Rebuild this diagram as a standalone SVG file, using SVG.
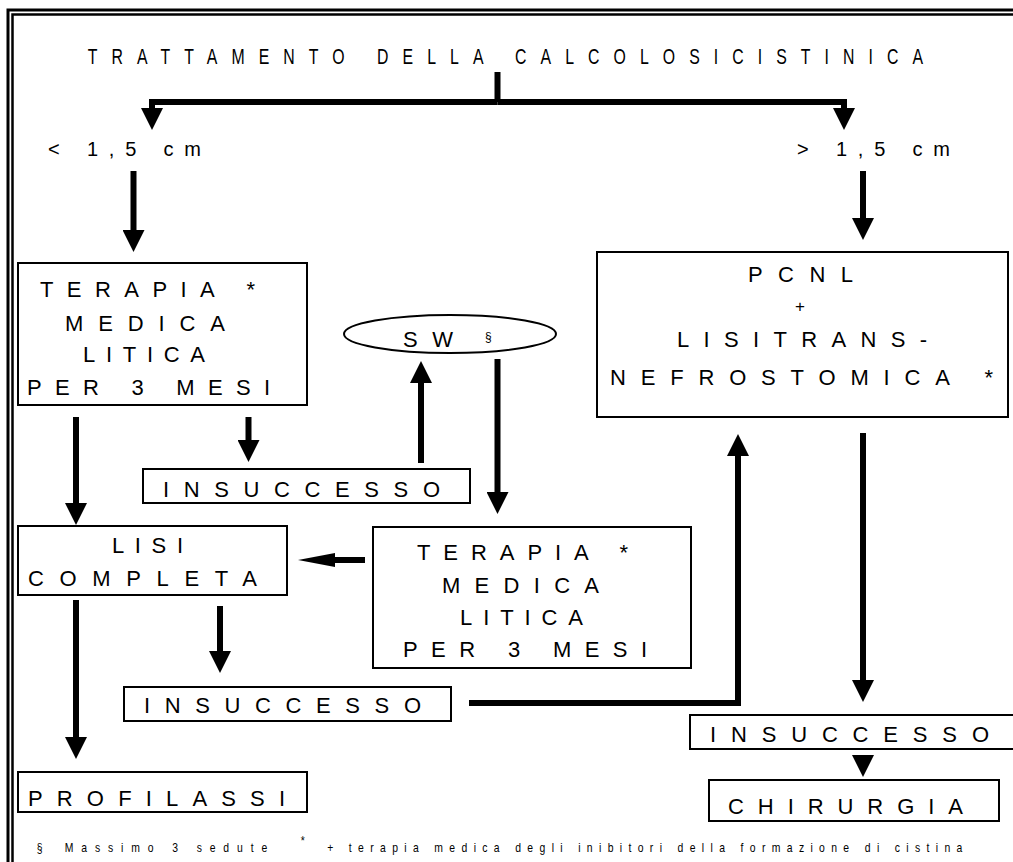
<svg xmlns="http://www.w3.org/2000/svg" width="1013" height="862" viewBox="0 0 1013 862">
  <style>
    .bg { fill: #ffffff; }
    .frame { fill: none; stroke: #000; }
    .box { fill: #ffffff; stroke: #000; stroke-width: 2; }
    .lbl { font-family: "Liberation Sans", Arial, sans-serif; font-size: 22px; fill: #000; }
    .title { font-family: "Liberation Sans", Arial, sans-serif; font-size: 22px; fill: #000; }
    .size { font-family: "Liberation Sans", Arial, sans-serif; font-size: 20px; fill: #000; }
    .note { font-family: "Liberation Sans", Arial, sans-serif; font-size: 13px; fill: #000; }
    .sup { font-family: "Liberation Sans", Arial, sans-serif; font-size: 12px; fill: #000; }
    .plus { font-family: "Liberation Sans", Arial, sans-serif; font-size: 17px; fill: #000; }
    .wire { fill: none; stroke: #000; stroke-width: 6; stroke-linejoin: miter; }
  </style>
  <defs>
    <!-- solid arrowhead, base at the path end, 22 long -->
    <marker id="ah" markerUnits="userSpaceOnUse" markerWidth="22" markerHeight="22" viewBox="0 -11 22 22" refX="0" refY="0" orient="auto">
      <path d="M0,-11 L22,0 L0,11 z" fill="#000"/>
    </marker>
    <!-- long narrow arrowhead -->
    <marker id="ahl" markerUnits="userSpaceOnUse" markerWidth="37" markerHeight="14" viewBox="0 -7 37 14" refX="0" refY="0" orient="auto">
      <path d="M0,-7 L37,0 L0,7 z" fill="#000"/>
    </marker>
  </defs>

  <rect class="bg" x="0" y="0" width="1013" height="862"/>

  <!-- double page frame -->
  <path class="frame" d="M8,862 V10 H1013" stroke-width="3"/>
  <path class="frame" d="M12.5,862 V14.5 H1013" stroke-width="2.5"/>

  <!-- condensed title: glyphs squeezed horizontally to 72 % -->
  <g id="title" transform="scale(0.72,1)">
    <text class="title" x="122" y="64" textLength="1160" lengthAdjust="spacing">TRATTAMENTO DELLA CALCOLOSICISTINICA</text>
  </g>

  <g id="size-small">
    <text class="size" x="48" y="156" textLength="153" lengthAdjust="spacing">&lt; 1,5 cm</text>
  </g>
  <g id="size-large">
    <text class="size" x="797" y="156" textLength="153" lengthAdjust="spacing">&gt; 1,5 cm</text>
  </g>

  <g id="terapia-1">
    <rect class="box" x="18" y="263" width="289" height="142"/>
    <text class="lbl" x="40" y="297" textLength="215" lengthAdjust="spacing">TERAPIA *</text>
    <text class="lbl" x="65" y="331" textLength="160" lengthAdjust="spacing">MEDICA</text>
    <text class="lbl" x="83" y="362" textLength="122" lengthAdjust="spacing">LITICA</text>
    <text class="lbl" x="27" y="395" textLength="243" lengthAdjust="spacing">PER 3 MESI</text>
  </g>

  <g id="sw">
    <ellipse class="box" cx="450" cy="334" rx="106" ry="19"/>
    <text class="lbl" x="403" y="347" textLength="50" lengthAdjust="spacing">SW</text>
    <text class="sup" x="485" y="341">§</text>
  </g>

  <g id="insuccesso-1">
    <rect class="box" x="143" y="469" width="327" height="34"/>
    <text class="lbl" x="163" y="497" textLength="277" lengthAdjust="spacing">INSUCCESSO</text>
  </g>

  <g id="lisi-completa">
    <rect class="box" x="18" y="526" width="269" height="69"/>
    <text class="lbl" x="112" y="553" textLength="71" lengthAdjust="spacing">LISI</text>
    <text class="lbl" x="28" y="586" textLength="229" lengthAdjust="spacing">COMPLETA</text>
  </g>

  <g id="terapia-2">
    <rect class="box" x="373" y="527" width="318" height="141"/>
    <text class="lbl" x="417" y="560" textLength="211" lengthAdjust="spacing">TERAPIA *</text>
    <text class="lbl" x="442" y="593" textLength="157" lengthAdjust="spacing">MEDICA</text>
    <text class="lbl" x="460" y="625" textLength="123" lengthAdjust="spacing">LITICA</text>
    <text class="lbl" x="403" y="657" textLength="244" lengthAdjust="spacing">PER 3 MESI</text>
  </g>

  <g id="insuccesso-2">
    <rect class="box" x="124" y="687" width="327" height="34"/>
    <text class="lbl" x="144" y="713" textLength="277" lengthAdjust="spacing">INSUCCESSO</text>
  </g>

  <g id="profilassi">
    <rect class="box" x="18" y="772" width="289" height="40"/>
    <text class="lbl" x="28" y="806" textLength="257" lengthAdjust="spacing">PROFILASSI</text>
  </g>

  <g id="pcnl">
    <rect class="box" x="597" y="252" width="411" height="165"/>
    <text class="lbl" x="748" y="282" textLength="105" lengthAdjust="spacing">PCNL</text>
    <text class="plus" x="800" y="312" text-anchor="middle">+</text>
    <text class="lbl" x="677" y="347" textLength="250" lengthAdjust="spacing">LISITRANS-</text>
    <text class="lbl" x="610" y="385" textLength="383" lengthAdjust="spacing">NEFROSTOMICA *</text>
  </g>

  <g id="insuccesso-3">
    <rect class="box" x="690" y="715" width="326" height="34"/>
    <text class="lbl" x="710" y="742" textLength="279" lengthAdjust="spacing">INSUCCESSO</text>
  </g>

  <g id="chirurgia">
    <rect class="box" x="709" y="780" width="290" height="41"/>
    <text class="lbl" x="728" y="814" textLength="235" lengthAdjust="spacing">CHIRURGIA</text>
  </g>

  <g id="connectors">
    <path class="wire" d="M497.5,72 V102" stroke-width="4"/>
    <path class="wire" d="M497.5,102 H152 V108" marker-end="url(#ah)"/>
    <path class="wire" d="M497.5,102 H844 V108" marker-end="url(#ah)"/>
    <path class="wire" d="M133.5,171 V230" marker-end="url(#ah)"/>
    <path class="wire" d="M863,171 V218" marker-end="url(#ah)"/>
    <path class="wire" d="M248.5,417 V440" marker-end="url(#ah)"/>
    <path class="wire" d="M76,417 V503" marker-end="url(#ah)"/>
    <path class="wire" d="M421,463 V383" marker-end="url(#ah)"/>
    <path class="wire" d="M497.5,359 V492" marker-end="url(#ah)"/>
    <path class="wire" d="M365,560 H335" marker-end="url(#ahl)"/>
    <path class="wire" d="M76,600 V737" marker-end="url(#ah)"/>
    <path class="wire" d="M220,606 V651" marker-end="url(#ah)"/>
    <path class="wire" d="M469,703 H738 V456" marker-end="url(#ah)"/>
    <path class="wire" d="M863,433 V680" marker-end="url(#ah)"/>
    <path d="M852,755 L874,755 L863,777 z" fill="#000"/>
  </g>

  <!-- footnote, condensed to 80 % -->
  <g id="footnote" transform="scale(0.8,1)">
    <text class="note" x="46" y="852">§</text>
    <text class="note" x="81" y="852" textLength="253" lengthAdjust="spacing">Massimo 3 sedute</text>
    <text class="note" x="376" y="845">*</text>
    <text class="note" x="409" y="852" textLength="794" lengthAdjust="spacing">+ terapia medica degli inibitori della formazione di cistina</text>
  </g>
</svg>
